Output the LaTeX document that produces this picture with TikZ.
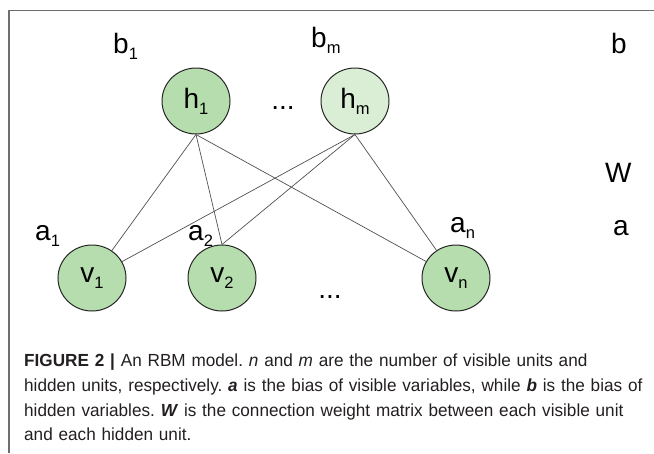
\documentclass[tikz,border=0pt]{standalone}
\usepackage{fontspec}
\setmainfont{Liberation Sans}
\newfontfamily\capfont[FakeStretch=0.98]{Liberation Sans}
\usetikzlibrary{shapes.geometric}
\definecolor{ngreen}{HTML}{B6DDAE}
\definecolor{nlight}{HTML}{D9EED4}
\definecolor{framegray}{HTML}{6E6E6E}
\definecolor{edgegray}{HTML}{505050}
\definecolor{captext}{HTML}{231F20}
\newcommand{\sbs}[1]{\raisebox{-6pt}{\fontsize{16.5}{16.5}\selectfont #1}}
\tikzset{
  unit/.style={ellipse, draw=black!85, line width=1pt, fill=ngreen,
    minimum width=68pt, minimum height=66pt, inner sep=0pt,
    font=\fontsize{28}{30}\selectfont},
  lab/.style={font=\fontsize{28}{30}\selectfont, inner sep=0pt, anchor=base west},
  dots/.style={font=\fontsize{28}{30}\selectfont, inner sep=0pt, anchor=base},
  edge/.style={draw=edgegray, line width=0.7pt},
  caption/.style={font=\capfont\frenchspacing\fontsize{17.5}{24.6}\selectfont, align=left,
    anchor=north west, inner sep=0pt, text width=625pt, text=captext}
}
\begin{document}
\begin{tikzpicture}[x=1pt,y=-1pt]
\useasboundingbox (0,0) rectangle (654,453);
\draw[framegray, line width=1.3pt] (9,453) -- (9,10.5) -- (654,10.5);
% hidden units
\node[unit] (h1) at (196,101) {h\sbs{1}};
\node[unit, fill=nlight] (hm) at (355,101) {h\sbs{m}};
\node[dots] (hdots) at (283,109) {...};
% visible units
\node[unit] (v1) at (92,278) {v\sbs{1}};
\node[unit] (v2) at (222,278) {v\sbs{2}};
\node[unit] (vn) at (456,278) {v\sbs{n}};
\node[dots] (vdots) at (330,298) {...};
% labels
\node[lab] (b1) at (113,53) {b\sbs{1}};
\node[lab] (bm) at (311,47) {b\sbs{m}};
\node[lab] (b) at (611,53) {b};
\node[lab] (W) at (605,182) {W};
\node[lab] (a1) at (35,240) {a\sbs{1}};
\node[lab] (a2) at (188,240) {a\sbs{2}};
\node[lab] (an) at (450,232) {a\sbs{n}};
\node[lab] (a) at (613,235) {a};
% connections
\draw[edge] (h1.south) -- (v1);
\draw[edge] (h1.south) -- (v2.north);
\draw[edge] (h1.south) -- (vn);
\draw[edge] (hm.south) -- (v1);
\draw[edge] (hm.south) -- (v2.north);
\draw[edge] (hm.south) -- (vn);
% caption
\node[caption] (cap) at (24,354) {\textbf{FIGURE 2 |} An RBM model. \textit{n} and \textit{m} are the number of visible units and\\
hidden units, respectively. \textbf{\textit{a}} is the bias of visible variables, while \textbf{\textit{b}} is the bias of\\
hidden variables. \textbf{\textit{W}} is the connection weight matrix between each visible unit\\
and each hidden unit.};
\end{tikzpicture}
\end{document}
